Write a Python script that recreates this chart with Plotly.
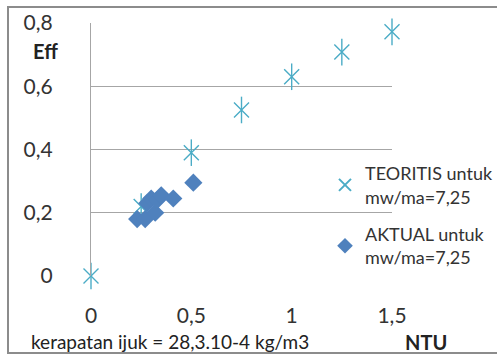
import plotly.graph_objects as go

# Data
ntu_teori = [0, 0.25, 0.5, 0.75, 1.0, 1.25, 1.5]
eff_teori = [0, 0.22, 0.39, 0.525, 0.63, 0.708, 0.772]
ntu_aktual = [0.23, 0.27, 0.28, 0.30, 0.32, 0.33, 0.35, 0.41, 0.51]
eff_aktual = [0.18, 0.18, 0.23, 0.245, 0.20, 0.24, 0.255, 0.245, 0.295]
x_ticks = [0, 0.5, 1, 1.5]
y_ticks = [0, 0.2, 0.4, 0.6, 0.8]

W, H = 497, 355
L, R, T, B = 91, 392, 23, 276
FONT = "Lato"
TXT = "#333333"

def px(x):
    return (x - L) / (R - L)

def py(y):
    return (B - y) / (B - T)

fig = go.Figure()
fig.add_trace(go.Scatter(
    x=ntu_teori, y=eff_teori, mode="markers", name="TEORITIS untuk<br>mw/ma=7,25",
    legendgroup="t",
    marker=dict(symbol="x-thin-open", size=15, color="#4BACC6",
                line=dict(color="#4BACC6", width=1.4)),
    cliponaxis=False))
fig.add_trace(go.Scatter(
    x=ntu_teori, y=eff_teori, mode="markers", name="t2", legendgroup="t",
    showlegend=False,
    marker=dict(symbol="line-ns-open", size=19, color="#4BACC6",
                line=dict(color="#4BACC6", width=1.4)),
    cliponaxis=False))
fig.add_trace(go.Scatter(
    x=ntu_aktual, y=eff_aktual, mode="markers", name="AKTUAL untuk<br>mw/ma=7,25",
    legendgroup="a",
    marker=dict(symbol="diamond", size=14, color="#4F81BD"),
    cliponaxis=False))

fig.update_layout(
    width=W, height=H,
    margin=dict(l=L, r=W - R, t=T, b=H - B, autoexpand=False),
    paper_bgcolor="white", plot_bgcolor="white",
    separators=",.",
    font=dict(family=FONT, size=18, color=TXT),
    xaxis=dict(range=[0, 1.5], tickvals=x_ticks, showgrid=False, zeroline=False,
               showline=False, ticks="", ticklabelstandoff=25,
               tickfont=dict(size=21, color=TXT)),
    yaxis=dict(range=[0, 0.8], tickvals=y_ticks, showgrid=True, gridcolor="#A6A6A6",
               gridwidth=1.3, zeroline=False, showline=True, linecolor="#A6A6A6",
               linewidth=1.3, ticks="", ticklabelstandoff=33,
               tickfont=dict(size=21, color=TXT)),
    legend=dict(x=px(325), y=py(155), xanchor="left", yanchor="top",
                bgcolor="rgba(0,0,0,0)", font=dict(size=18, color=TXT),
                traceorder="grouped", tracegroupgap=11, itemsizing="constant"),
    showlegend=True,
)

fig.add_shape(type="rect", xref="paper", yref="paper",
              x0=px(8), x1=px(498), y0=py(353), y1=py(7),
              line=dict(color="#8C8C8C", width=2), layer="below")

fig.add_annotation(text="<b>Eff</b>", xref="paper", yref="paper",
                   x=px(31), y=py(51), xanchor="left", yanchor="middle",
                   showarrow=False, font=dict(size=20, color="#222222"))
fig.add_annotation(text="<b>NTU</b>", xref="paper", yref="paper",
                   x=px(403), y=py(342), xanchor="left", yanchor="middle",
                   showarrow=False, font=dict(size=20, color="#222222"))
fig.add_annotation(text="kerapatan ijuk = 28,3.10-4 kg/m3", xref="paper", yref="paper",
                   x=px(29), y=py(341), xanchor="left", yanchor="middle",
                   showarrow=False, font=dict(size=19, color="#222222"))

fig.write_html("out.html", config={"displayModeBar": False},
               post_script="document.body.style.margin='0';document.body.style.overflow='hidden';")
